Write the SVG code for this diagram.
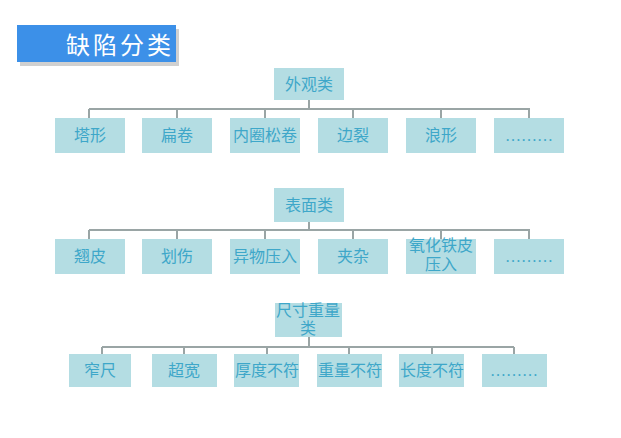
<svg xmlns="http://www.w3.org/2000/svg" width="621" height="438" viewBox="0 0 621 438">
<style>
.b{fill:#b4dde3}
.t{font-family:"Liberation Serif","Noto Sans CJK SC",serif;font-size:16px;fill:#3ea7c9;text-anchor:middle}
.c{stroke:#9aa5a5;stroke-width:2;fill:none}
</style>
<rect width="621" height="438" fill="#fff"/>
<g id="title"><rect x="20" y="29" width="159" height="37" fill="#d0d0d0"/><rect x="17" y="25" width="159" height="37" fill="#3c90e8"/><text x="120" y="54" font-family="Liberation Serif,'Noto Sans CJK SC',serif" font-size="24" fill="#fff" text-anchor="middle" letter-spacing="3">缺陷分类</text></g>
<g id="connectors" class="c">
<path d="M309 100V109M89 109H530M89 109V118M177 109V118M265 109V118M353 109V118M441 109V118M529 109V118"/>
<path d="M309 222V230M89 230H530M89 230V239M177 230V239M265 230V239M353 230V239M441 230V239M529 230V239"/>
<path d="M309 337V347M102 347H514M102 347V354M184 347V354M267 347V354M349 347V354M432 347V354M514 347V354"/>
</g>
<g id="p1"><rect class="b" x="274" y="68" width="70" height="32"/><text class="t" x="309" y="90">外观类</text></g>
<g id="r1a"><rect class="b" x="55" y="118" width="70" height="35"/><text class="t" x="90" y="141">塔形</text></g>
<g id="r1b"><rect class="b" x="142" y="118" width="70" height="35"/><text class="t" x="177" y="141">扁卷</text></g>
<g id="r1c"><rect class="b" x="230" y="118" width="70" height="35"/><text class="t" x="265" y="141">内圈松卷</text></g>
<g id="r1d"><rect class="b" x="318" y="118" width="70" height="35"/><text class="t" x="353" y="141">边裂</text></g>
<g id="r1e"><rect class="b" x="406" y="118" width="70" height="35"/><text class="t" x="441" y="141">浪形</text></g>
<g id="r1f"><rect class="b" x="494" y="118" width="70" height="35"/><text class="t" x="529" y="141">………</text></g>
<g id="p2"><rect class="b" x="274" y="188" width="70" height="34"/><text class="t" x="309" y="211">表面类</text></g>
<g id="r2a"><rect class="b" x="55" y="239" width="70" height="35"/><text class="t" x="90" y="262">翘皮</text></g>
<g id="r2b"><rect class="b" x="142" y="239" width="70" height="35"/><text class="t" x="177" y="262">划伤</text></g>
<g id="r2c"><rect class="b" x="230" y="239" width="70" height="35"/><text class="t" x="265" y="262">异物压入</text></g>
<g id="r2d"><rect class="b" x="318" y="239" width="70" height="35"/><text class="t" x="353" y="262">夹杂</text></g>
<g id="r2e"><rect class="b" x="406" y="239" width="70" height="35"/><text class="t" x="441" y="251">氧化铁皮</text><text class="t" x="441" y="270">压入</text></g>
<g id="r2f"><rect class="b" x="494" y="239" width="70" height="35"/><text class="t" x="529" y="262">………</text></g>
<g id="p3"><rect class="b" x="275" y="303" width="67" height="34"/><text class="t" x="308" y="316">尺寸重量</text><text class="t" x="308" y="334">类</text></g>
<g id="r3a"><rect class="b" x="69" y="354" width="62" height="33"/><text class="t" x="100" y="376">窄尺</text></g>
<g id="r3b"><rect class="b" x="152" y="354" width="65" height="33"/><text class="t" x="184" y="376">超宽</text></g>
<g id="r3c"><rect class="b" x="234" y="354" width="65" height="33"/><text class="t" x="267" y="376">厚度不符</text></g>
<g id="r3d"><rect class="b" x="317" y="354" width="65" height="33"/><text class="t" x="350" y="376">重量不符</text></g>
<g id="r3e"><rect class="b" x="399" y="354" width="65" height="33"/><text class="t" x="432" y="376">长度不符</text></g>
<g id="r3f"><rect class="b" x="482" y="354" width="65" height="33"/><text class="t" x="514" y="376">………</text></g>
</svg>
